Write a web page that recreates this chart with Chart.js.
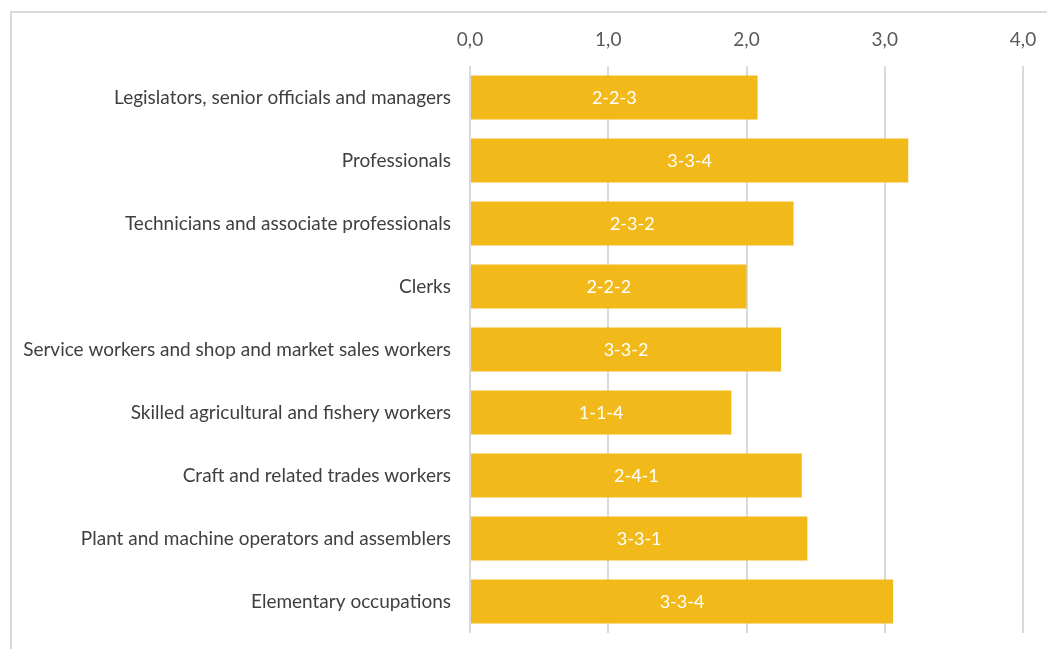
<!DOCTYPE html>
<html>
<head>
<meta charset="utf-8">
<script src="https://cdn.jsdelivr.net/npm/chart.js@4"></script>
<style>
  html, body { margin: 0; padding: 0; background: #fff; }
  #wrap { position: relative; width: 1047px; height: 649px; overflow: hidden; }
  #frame { position: absolute; left: 10px; top: 11px; width: 1100px; height: 700px;
           border-left: 2px solid #d9d9d9; border-top: 2px solid #d9d9d9; }
  canvas { position: absolute; left: 0; top: 0; }
</style>
</head>
<body>
<div id="wrap">
  <div id="frame"></div>
  <canvas id="chart" width="1047" height="649"></canvas>
</div>
<script>
// ── Data ─────────────────────────────────────────────────────
const categories = [
  'Legislators, senior officials and managers',
  'Professionals',
  'Technicians and associate professionals',
  'Clerks',
  'Service workers and shop and market sales workers',
  'Skilled agricultural and fishery workers',
  'Craft and related trades workers',
  'Plant and machine operators and assemblers',
  'Elementary occupations',
];
const values = [2.08, 3.17, 2.34, 2.00, 2.25, 1.89, 2.40, 2.44, 3.06];
const barLabels = ['2-2-3', '3-3-4', '2-3-2', '2-2-2', '3-3-2', '1-1-4', '2-4-1', '3-3-1', '3-3-4'];
const xTicks = [0, 1, 2, 3, 4];

const FONT = "Lato, 'Open Sans', sans-serif";

// ── Labels inside bars ───────────────────────────────────────
const insideLabels = {
  id: 'insideLabels',
  afterDatasetsDraw(chart) {
    const { ctx } = chart;
    const meta = chart.getDatasetMeta(0);
    ctx.save();
    ctx.fillStyle = '#ffffff';
    ctx.font = '18px ' + FONT;
    ctx.textAlign = 'center';
    ctx.textBaseline = 'middle';
    meta.data.forEach((bar, i) => {
      ctx.fillText(barLabels[i], (bar.x + bar.base) / 2, bar.y + 1);
    });
    ctx.restore();
  },
};

// no extra edge padding from tick labels
function noEdgePad(scale) {
  scale.paddingTop = 0;
  scale.paddingBottom = 0;
  scale.paddingLeft = 0;
  scale.paddingRight = 0;
}

// ── Chart ────────────────────────────────────────────────────
new Chart(document.getElementById('chart'), {
  type: 'bar',
  data: {
    labels: categories,
    datasets: [{
      data: values,
      backgroundColor: '#F1BA1A',
      borderWidth: 0,
      barPercentage: 0.7,
      categoryPercentage: 1,
    }],
  },
  options: {
    indexAxis: 'y',
    responsive: false,
    animation: false,
    layout: { padding: { top: 0, left: 0, right: 24, bottom: 16 } },
    plugins: { legend: { display: false }, tooltip: { enabled: false } },
    scales: {
      x: {
        position: 'top',
        min: 0,
        max: 4,
        afterBuildTicks(scale) { scale.ticks = xTicks.map(v => ({ value: v })); },
        afterFit(scale) { scale.height = 66; noEdgePad(scale); },
        grid: { color: '#d9d9d9', lineWidth: 2, drawTicks: false },
        border: { display: false },
        ticks: {
          color: '#595959',
          font: { family: FONT, size: 19 },
          padding: 15,
          callback: v => v.toFixed(1).replace('.', ','),
        },
      },
      y: {
        afterFit(scale) { scale.width = 470; noEdgePad(scale); },
        grid: { display: false, drawTicks: false },
        border: { display: false },
        ticks: {
          color: '#404040',
          font: { family: FONT, size: 19 },
          padding: 19,
        },
      },
    },
  },
  plugins: [insideLabels],
});
</script>
</body>
</html>
